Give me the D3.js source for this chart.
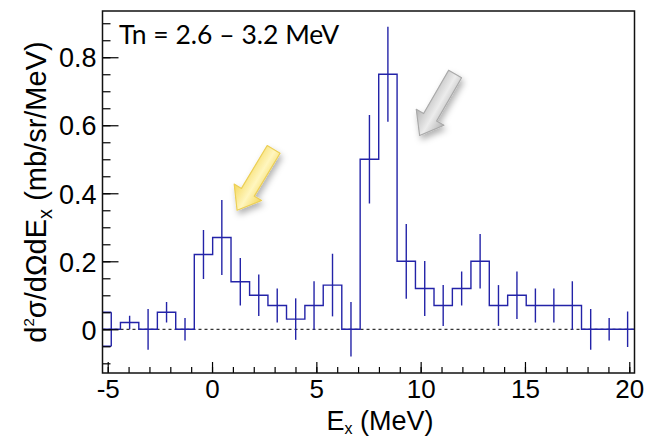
<!DOCTYPE html>
<html>
<head>
<meta charset="utf-8">
<script src="https://cdn.jsdelivr.net/npm/d3@7"></script>
<style>
  body { margin: 0; background: #fff; }
  svg { display: block; }
</style>
</head>
<body>
<div id="chart"></div>
<script>
// bin edges in MeV (lower edge of every bin, plus the last upper edge)
const binEdges = [-5.27, -4.39, -3.51, -2.62, -1.74, -0.85, 0.03, 0.91, 1.80, 2.68,
  3.57, 4.45, 5.33, 6.22, 7.10, 7.99, 8.87, 9.75, 10.64, 11.52,
  12.41, 13.29, 14.17, 15.06, 15.94, 16.83, 17.71, 18.59, 19.48, 20.36];
const counts = [0, 0.02, 0, 0.05, 0, 0.22, 0.27, 0.14, 0.10, 0.07,
  0.03, 0.07, 0.13, 0, 0.50, 0.75, 0.20, 0.12, 0.07, 0.12,
  0.20, 0.07, 0.10, 0.07, 0.07, 0.07, 0, 0, 0];
const errors = [0.05, 0.02, 0.06, 0.03, 0.033, 0.072, 0.11, 0.07, 0.061, 0.05,
  0.061, 0.071, 0.092, 0.08, 0.13, 0.14, 0.11, 0.081, 0.06, 0.05,
  0.08, 0.06, 0.07, 0.05, 0.05, 0.071, 0.06, 0.033, 0.052];

const xTicks = [-5, 0, 5, 10, 15, 20];
const xTickLabels = ['-5', '0', '5', '10', '15', '20'];
const yTicks = [0, 0.2, 0.4, 0.6, 0.8];
const yTickLabels = ['0', '0.2', '0.4', '0.6', '0.8'];
const titleText = 'Tn = 2.6 \u2013 3.2 MeV';

// arrow annotations: tip position in data units, direction in degrees
const arrows = [
  { x: 1.2, y: 0.35, angle: 121, c1: '#fff6bf', c2: '#f4d85c', stroke: '#eccf55' },
  { x: 9.95, y: 0.57, angle: 120, c1: '#ececec', c2: '#b4b4b4', stroke: '#a9a9a9' }
];

const width = 648, height = 438;
const margin = { top: 11, right: 13.5, bottom: 65, left: 102.5 };
const lineColor = '#2323a8';

const svg = d3.select('#chart')
    .append('svg')
    .attr('width', width)
    .attr('height', height);

const x = d3.scaleLinear()
    .domain([-5.25, 20.25])
    .range([margin.left, width - margin.right]);

const y = d3.scaleLinear()
    .domain([-0.1285, 0.936])
    .range([height - margin.bottom, margin.top]);

const defs = svg.append('defs');
defs.append('clipPath').attr('id', 'plot-clip')
  .append('rect')
    .attr('x', x.range()[0])
    .attr('y', y.range()[1])
    .attr('width', x.range()[1] - x.range()[0])
    .attr('height', y.range()[0] - y.range()[1]);

const shadow = defs.append('filter').attr('id', 'shadow')
    .attr('x', '-50%').attr('y', '-50%').attr('width', '200%').attr('height', '200%');
shadow.append('feDropShadow')
    .attr('dx', 2).attr('dy', 4).attr('stdDeviation', 3)
    .attr('flood-color', '#000').attr('flood-opacity', 0.3);

arrows.forEach((a, i) => {
  const g = defs.append('linearGradient').attr('id', `arrow-grad-${i}`)
      .attr('x1', 0).attr('y1', 0).attr('x2', 0).attr('y2', 1);
  g.append('stop').attr('offset', '0%').attr('stop-color', a.c2);
  g.append('stop').attr('offset', '45%').attr('stop-color', a.c1);
  g.append('stop').attr('offset', '100%').attr('stop-color', a.c2);
});

// zero line
svg.append('line')
    .attr('x1', x.range()[0]).attr('x2', x.range()[1])
    .attr('y1', y(0)).attr('y2', y(0))
    .attr('stroke', '#000')
    .attr('stroke-width', 1)
    .attr('stroke-dasharray', '3,3');

const plot = svg.append('g').attr('clip-path', 'url(#plot-clip)');

// step histogram
const steps = [];
counts.forEach((v, i) => {
  steps.push([binEdges[i], v]);
  steps.push([binEdges[i + 1], v]);
});
plot.append('path')
    .datum(steps)
    .attr('fill', 'none')
    .attr('stroke', lineColor)
    .attr('stroke-width', 1.4)
    .attr('d', d3.line().x((d) => x(d[0])).y((d) => y(d[1])));

// error bars
const bins = counts.map((v, i) => ({
  c: (binEdges[i] + binEdges[i + 1]) / 2,
  v: v,
  e: errors[i],
  cut: binEdges[i] < x.domain()[0]
}));
plot.selectAll('line.err')
    .data(bins)
    .join('line')
    .attr('class', 'err')
    .attr('x1', (d) => x(d.c)).attr('x2', (d) => x(d.c))
    .attr('y1', (d) => y(d.v - d.e)).attr('y2', (d) => y(d.v + d.e))
    .attr('stroke', lineColor)
    .attr('stroke-width', 1.4);

// the bin cut by the frame shows its error range as a bracket
const cutBins = bins.filter((d) => d.cut);
[-1, 1].forEach((s) => {
  plot.selectAll(`line.cut${s}`)
      .data(cutBins)
      .join('line')
      .attr('x1', x.range()[0]).attr('x2', (d) => x(d.c))
      .attr('y1', (d) => y(d.v + s * d.e))
      .attr('y2', (d) => y(d.v + s * d.e))
      .attr('stroke', lineColor)
      .attr('stroke-width', 1.4);
});

// axes
const font = '"Liberation Sans", Arial, Helvetica, sans-serif';

const yAxis = svg.append('g')
    .attr('transform', `translate(${margin.left},0)`)
    .call(d3.axisLeft(y).tickValues(yTicks).tickSize(-16).tickPadding(6)
      .tickFormat((d, i) => yTickLabels[i]));
svg.append('g')
    .attr('transform', `translate(${margin.left},0)`)
    .call(d3.axisLeft(y).tickValues(d3.range(-0.1, 0.91, 0.05)).tickSize(-8).tickFormat(''));

const xAxis = svg.append('g')
    .attr('transform', `translate(0,${height - margin.bottom})`)
    .call(d3.axisBottom(x).tickValues(xTicks).tickSize(-11).tickPadding(6.5)
      .tickFormat((d, i) => xTickLabels[i]));
svg.append('g')
    .attr('transform', `translate(0,${height - margin.bottom})`)
    .call(d3.axisBottom(x).tickValues(d3.range(-5, 20.5, 1)).tickSize(-6).tickFormat(''));

svg.selectAll('.domain').remove();
svg.selectAll('.tick line').attr('stroke', '#000').attr('stroke-width', 1.2);
svg.selectAll('.tick text')
    .attr('font-family', font)
    .attr('font-size', 27)
    .attr('fill', '#000');
yAxis.selectAll('.tick text').attr('dy', '0.36em');
xAxis.selectAll('.tick text').attr('font-size', 26);

// frame
svg.append('rect')
    .attr('x', x.range()[0])
    .attr('y', y.range()[1])
    .attr('width', x.range()[1] - x.range()[0])
    .attr('height', y.range()[0] - y.range()[1])
    .attr('fill', 'none')
    .attr('stroke', '#111')
    .attr('stroke-width', 1.5);

// axis titles
const yTitle = svg.append('text')
    .attr('transform', 'translate(46,192) rotate(-90)')
    .attr('text-anchor', 'middle')
    .attr('font-family', font)
    .attr('font-size', 29)
    .attr('fill', '#000');
yTitle.append('tspan').text('d');
yTitle.append('tspan').attr('font-size', 15).attr('dy', -12).text('2');
yTitle.append('tspan').attr('dy', 12).text('\u03c3/d\u03a9dE');
yTitle.append('tspan').attr('font-size', 20).attr('dy', 6).text('x');
yTitle.append('tspan').attr('dy', -6).text(' (mb/sr/MeV)');

const xTitle = svg.append('text')
    .attr('x', 380)
    .attr('y', 430)
    .attr('text-anchor', 'middle')
    .attr('font-family', font)
    .attr('font-size', 27)
    .attr('fill', '#000');
xTitle.append('tspan').text('E');
xTitle.append('tspan').attr('font-size', 16).attr('dy', 4).text('x');
xTitle.append('tspan').attr('dy', -4).text(' (MeV)');

// label inside the frame
svg.append('text')
    .attr('x', 119)
    .attr('y', 44)
    .attr('font-family', 'Lato, "Open Sans", sans-serif')
    .attr('font-size', 26.5)
    .attr('fill', '#000')
    .text(titleText);

// arrows
const arrowShape = [[0, 0], [-21, -16], [-21, -7.5], [-71, -7.5], [-71, 7.5], [-21, 7.5], [-21, 16]];
arrows.forEach((a, i) => {
  svg.append('g')
      .attr('transform', `translate(${x(a.x)},${y(a.y)})`)
      .attr('filter', 'url(#shadow)')
    .append('path')
      .attr('transform', `rotate(${a.angle})`)
      .attr('d', d3.line()(arrowShape) + 'Z')
      .attr('fill', `url(#arrow-grad-${i})`)
      .attr('stroke', a.stroke)
      .attr('stroke-width', 1.2)
      .attr('stroke-linejoin', 'round');
});
</script>
</body>
</html>
